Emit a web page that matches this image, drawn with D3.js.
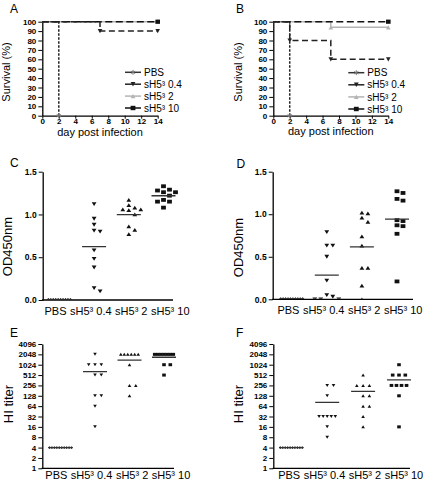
<!DOCTYPE html>
<html><head><meta charset="utf-8">
<script src="https://cdn.jsdelivr.net/npm/d3@7"></script>
<style>
body{margin:0;background:#fff;}
svg{display:block;font-family:Arial,"Liberation Sans",Helvetica,sans-serif;}
</style></head>
<body>
<svg id="chart" width="425" height="485"></svg>
<script>
// ---------- DATA ----------
const groups = ["PBS", "sH5³ 0.4", "sH5³ 2", "sH5³ 10"];
const survTicksY = [0,10,20,30,40,50,60,70,80,90,100];
const survTicksX = [0,2,4,6,8,10,12,14];

// Panel A survival: event days and survival (%)
const survA_PBS_days = [0, 2],      survA_PBS_pct = [100, 0];
const survA_04_days  = [0, 7, 14],  survA_04_pct  = [100, 90, 90];
const survA_2_days   = [0, 14],     survA_2_pct   = [100, 100];
const survA_10_days  = [0, 14],     survA_10_pct  = [100, 100];
// Panel B survival
const survB_PBS_days = [0, 2],        survB_PBS_pct = [100, 0];
const survB_04_days  = [0, 2, 7, 14], survB_04_pct  = [100, 80, 60, 60];
const survB_2_days   = [0, 7, 14],    survB_2_pct   = [100, 94, 94];
const survB_10_days  = [0, 14],       survB_10_pct  = [100, 100];

// Panel C OD450nm
const odTicks = [0, 0.5, 1.0, 1.5];
const odC_PBS = [0.005,0.005,0.005,0.005,0.005,0.005,0.005,0.005,0.005,0.005];
const odC_04  = [1.12,0.95,0.88,0.81,0.80,0.58,0.48,0.38,0.14,0.10];
const odC_2   = [1.17,1.11,1.08,1.06,1.06,1.05,1.00,0.86,0.82,0.77];
const odC_10  = [1.33,1.29,1.28,1.26,1.26,1.22,1.17,1.15,1.15,1.08];
// Panel D OD450nm
const odD_PBS = [0.005,0.005,0.005,0.005,0.005,0.005,0.005,0.005,0.005,0.005];
const odD_04  = [0.79,0.63,0.63,0.50,0.22,0.05,0.03,0.0,0.0,0.0];
const odD_2   = [1.02,1.01,0.96,0.91,0.74,0.63,0.37,0.37,0.16,0.0];
const odD_10  = [1.27,1.25,1.18,1.16,0.93,0.92,0.87,0.86,0.77,0.21];

// Panel E HI titer
const hiTicks = [1,2,4,8,16,32,64,128,256,512,1024,2048,4096];
const hiE_PBS = [4,4,4,4,4,4,4,4,4,4];
const hiE_04  = [2048,1024,1024,1024,512,512,128,128,64,16];
const hiE_2   = [2048,2048,2048,2048,2048,2048,1024,256,256,128];
const hiE_10  = [2048,2048,2048,2048,2048,2048,2048,1024,1024,512];
// Panel F HI titer
const hiF_PBS = [4,4,4,4,4,4,4,4,4,4];
const hiF_04  = [256,256,128,32,32,32,32,32,16,8];
const hiF_2   = [512,256,256,256,128,128,64,64,32,16];
const hiF_10  = [1024,512,512,512,256,256,256,256,128,16];

// ---------- STYLES ----------
const FONT = 'Arial,"Liberation Sans",Helvetica,sans-serif';
const seriesStyle = {
  "PBS":      {color:"#222", dash:"2.5,1.5", sym:d3.symbolAsterisk, mcol:"#777"},
  "sH5³ 0.4": {color:"#222", dash:"6,3.5", sym:"down", mcol:"#222"},
  "sH5³ 2":   {color:"#b4b4b4", dash:null, sym:"up", mcol:"#b4b4b4"},
  "sH5³ 10":  {color:"#111", dash:"7,3.5", sym:"square", mcol:"#111"}
};

const svg = d3.select("#chart");

function marker(g, type, x, y, w, h, fill) {
  if (type === "down") {
    g.append("path").attr("d", `M${x-w/2},${y-h/2}L${x+w/2},${y-h/2}L${x},${y+h/2}Z`).attr("fill", fill);
  } else if (type === "up") {
    g.append("path").attr("d", `M${x-w/2},${y+h/2}L${x+w/2},${y+h/2}L${x},${y-h/2}Z`).attr("fill", fill);
  } else if (type === "square") {
    g.append("rect").attr("x", x-w/2).attr("y", y-h/2).attr("width", w).attr("height", h).attr("fill", fill);
  } else if (type === "diamond") {
    g.append("path").attr("d", `M${x-w/2},${y}L${x},${y-h/2}L${x+w/2},${y}L${x},${y+h/2}Z`).attr("fill", fill);
  } else {
    g.append("path").attr("d", d3.symbol(type, 16)()).attr("transform", `translate(${x},${y})`)
      .attr("fill", "none").attr("stroke", fill).attr("stroke-width", 1);
  }
}

function styleAxis(g, fs) {
  g.select(".domain").attr("stroke", "#000").attr("stroke-width", 1.3);
  g.selectAll(".tick line").attr("stroke", "#000").attr("stroke-width", 1);
  g.selectAll(".tick text").attr("font-family", FONT).attr("font-size", fs)
    .attr("font-weight", "bold").attr("fill", "#000");
}

function label(x, y, txt, fs, rot) {
  const t = svg.append("text").attr("font-family", FONT).attr("font-size", fs).attr("fill", "#000").text(txt);
  if (rot) t.attr("text-anchor", "middle").attr("transform", `translate(${x},${y}) rotate(-90)`);
  else t.attr("x", x).attr("y", y);
  return t;
}

// ---------- SURVIVAL PANELS ----------
function survival(o) {
  const x = d3.scaleLinear().domain([0, 14]).range([o.x0, o.x1]);
  const y = d3.scaleLinear().domain([0, 100]).range([o.y0, o.y1]);
  const gy = svg.append("g").attr("transform", `translate(${o.x0},0)`)
    .call(d3.axisLeft(y).tickValues(survTicksY).tickSize(4).tickPadding(2).tickSizeOuter(0));
  styleAxis(gy, 8);
  const gx = svg.append("g").attr("transform", `translate(0,${o.y0})`)
    .call(d3.axisBottom(x).tickValues(survTicksX).tickSize(3).tickPadding(0).tickSizeOuter(0));
  styleAxis(gx, 8);

  const line = d3.line().x(d => x(d[0])).y(d => y(d[1])).curve(d3.curveStepAfter);
  const order = ["sH5³ 2", "sH5³ 10", "PBS", "sH5³ 0.4"];
  order.forEach(name => {
    const s = o.series[name], st = seriesStyle[name];
    const pts = s.days.map((d, i) => [d, s.pct[i]]);
    svg.append("path").attr("d", line(pts)).attr("fill", "none")
      .attr("stroke", st.color).attr("stroke-width", 1.5)
      .attr("stroke-dasharray", st.dash);
  });
  order.forEach(name => {
    const s = o.series[name], st = seriesStyle[name];
    const mg = svg.append("g");
    s.days.forEach((d, i) => { if (i > 0) marker(mg, st.sym, x(d), y(s.pct[i]), 4.6, 4.2, st.mcol); });
  });

  // legend
  groups.forEach((name, i) => {
    const st = seriesStyle[name];
    const ly = o.legY + i * o.legDy;
    svg.append("line").attr("x1", o.legX).attr("x2", o.legX + 16).attr("y1", ly).attr("y2", ly)
      .attr("stroke", name === "PBS" ? "#333" : st.color).attr("stroke-width", 1.5);
    marker(svg.append("g"), st.sym, o.legX + 8, ly, 4.8, 4.4, st.mcol);
    svg.append("text").attr("x", o.legX + 19).attr("y", ly + 3.6)
      .attr("font-family", FONT).attr("font-size", 10).attr("fill", "#000").text(name);
  });
  label(o.titleX, 72, "Survival (%)", 11, true);
  label((o.x0 + o.x1) / 2, o.xlabY, "day post infection", 11, false).attr("text-anchor", "middle");
}

survival({x0:42.3, x1:157.7, y0:115.7, y1:21.7, legX:125, legY:72.3, legDy:11.9, titleX:10, xlabY:136,
  series:{"PBS":{days:survA_PBS_days,pct:survA_PBS_pct},"sH5³ 0.4":{days:survA_04_days,pct:survA_04_pct},
          "sH5³ 2":{days:survA_2_days,pct:survA_2_pct},"sH5³ 10":{days:survA_10_days,pct:survA_10_pct}}});
survival({x0:273.3, x1:388.3, y0:115.7, y1:21.7, legX:348.3, legY:72.7, legDy:12.1, titleX:241.5, xlabY:135,
  series:{"PBS":{days:survB_PBS_days,pct:survB_PBS_pct},"sH5³ 0.4":{days:survB_04_days,pct:survB_04_pct},
          "sH5³ 2":{days:survB_2_days,pct:survB_2_pct},"sH5³ 10":{days:survB_10_days,pct:survB_10_pct}}});

// ---------- SCATTER PANELS ----------
function layoutPoints(vals, y, cx, opt) {
  const pts = vals.map(v => ({v, y: y(v)}));
  const grp = Array.from(d3.group(pts, d => d.v).values()).sort((a, b) => a[0].y - b[0].y);
  const placed = [];
  for (const g of grp) {
    const n = g.length;
    if (n >= 4) {
      const span = Math.min((n - 1) * opt.step, opt.rowA + opt.rowB * n);
      g.forEach((p, i) => { p.x = cx + (i / (n - 1) - 0.5) * span; placed.push(p); });
    } else {
      for (const p of g) {
        p.x = cx;
        for (let k = 0; k < 14; k++) {
          const off = k === 0 ? 0 : (k % 2 === 1 ? (k + 1) / 2 : -k / 2);
          const xx = cx + off * opt.step;
          if (!placed.some(q => Math.abs(q.x - xx) < opt.w && Math.abs(q.y - p.y) < opt.h)) { p.x = xx; break; }
        }
        placed.push(p);
      }
    }
  }
  return pts;
}

// spread category labels so neighbouring labels do not overlap
function spreadLabels(gx, xc, gap) {
  const ticks = gx.selectAll(".tick").nodes();
  const items = ticks.map(t => {
    const d = d3.select(t).datum();
    const txt = d3.select(t).select("text");
    return {txt, c: xc(d), base: xc(d), w: txt.node().getComputedTextLength()};
  });
  for (let it = 0; it < 60; it++) {
    let moved = false;
    for (let i = 0; i < items.length - 1; i++) {
      const a = items[i], b = items[i + 1];
      const ov = (a.c + a.w / 2 + gap) - (b.c - b.w / 2);
      if (ov > 0.01) { a.c -= ov / 2; b.c += ov / 2; moved = true; }
    }
    if (!moved) break;
  }
  items.forEach(o => o.txt.attr("x", o.c - o.base));
}

let clipId = 0;
function scatter(o) {
  const y = o.y;
  const xc = d3.scalePoint().domain(groups).range(o.catRange);
  const gy = svg.append("g").attr("transform", `translate(${o.x0},0)`)
    .call(d3.axisLeft(y).tickValues(o.ticks).tickFormat(o.fmt).tickSize(4).tickPadding(2).tickSizeOuter(0));
  styleAxis(gy, o.tickFs);
  // x axis baseline
  svg.append("line").attr("x1", o.x0 - 0.65).attr("x2", o.xEnd).attr("y1", o.yBase).attr("y2", o.yBase)
    .attr("stroke", "#000").attr("stroke-width", 1.3);
  const gx = svg.append("g").attr("transform", `translate(0,${o.yBase})`)
    .call(d3.axisBottom(xc).tickSize(0).tickPadding(o.labPad));
  gx.select(".domain").remove();
  gx.selectAll(".tick text").attr("font-family", FONT).attr("font-size", 11).attr("fill", "#000");
  spreadLabels(gx, xc, 3.5);

  const id = "clip" + (clipId++);
  svg.append("clipPath").attr("id", id).append("rect")
    .attr("x", o.x0).attr("y", y.range()[1] - 10).attr("width", o.xEnd - o.x0 + 10)
    .attr("height", o.yBase - y.range()[1] + 10 - 0.6);
  const pg = svg.append("g").attr("clip-path", `url(#${id})`);

  const syms = ["diamond", "down", "up", "square"];
  groups.forEach((name, gi) => {
    const vals = o.data[gi];
    const cx = xc(name);
    const pts = layoutPoints(vals, y, cx, o.lay);
    const sz = gi === 0 ? o.pbsSize : o.msize;
    pts.forEach(p => marker(pg, syms[gi], p.x, p.y, sz[0], sz[1], "#111"));
    const m = d3.mean(vals);
    const half = gi === 0 ? (d3.max(pts, p => p.x) - d3.min(pts, p => p.x)) / 2 + 1 : 12;
    pg.append("line").attr("x1", cx - half).attr("x2", cx + half)
      .attr("y1", y(m)).attr("y2", y(m)).attr("stroke", "#333").attr("stroke-width", 1.3);
  });
  label(o.titleX, o.titleY, o.title, 13, true);
}

const layOD = {step:6, w:5.5, h:4.4, rowA:12, rowB:1.0};
scatter({x0:42.7, xEnd:173, yBase:300, catRange:[59.4,163.5],
  y:d3.scaleLinear().domain([0,1.5]).range([300,171.7]), ticks:odTicks, fmt:d3.format(".1f"), tickFs:8.5,
  data:[odC_PBS, odC_04, odC_2, odC_10], lay:layOD, msize:[4.8,3.8], pbsSize:[3.2,3],
  labPad:7, titleX:12, titleY:246.5, title:"OD450nm"});
scatter({x0:272.7, xEnd:413, yBase:299.3, catRange:[291.7,397],
  y:d3.scaleLinear().domain([0,1.5]).range([299.3,171.7]), ticks:odTicks, fmt:d3.format(".1f"), tickFs:8.5,
  data:[odD_PBS, odD_04, odD_2, odD_10], lay:layOD, msize:[4.8,3.8], pbsSize:[3.2,3],
  labPad:7, titleX:243.3, titleY:247.5, title:"OD450nm"});

const layHI = {step:6.3, w:5.5, h:4, rowA:10.5, rowB:1.15};
scatter({x0:42.3, xEnd:174, yBase:468.3, catRange:[60.5,164],
  y:d3.scaleLog().base(2).domain([1,4096]).range([468.3,344]), ticks:hiTicks, fmt:d3.format("d"), tickFs:8,
  data:[hiE_PBS, hiE_04, hiE_2, hiE_10], lay:layHI, msize:[3.6,3], pbsSize:[3,2.6],
  labPad:3.2, titleX:13.3, titleY:404, title:"HI titer"});
scatter({x0:273.3, xEnd:410, yBase:468.3, catRange:[291.3,399],
  y:d3.scaleLog().base(2).domain([1,4096]).range([468.3,344]), ticks:hiTicks, fmt:d3.format("d"), tickFs:8,
  data:[hiF_PBS, hiF_04, hiF_2, hiF_10], lay:layHI, msize:[3.6,3], pbsSize:[3,2.6],
  labPad:3.2, titleX:243, titleY:404, title:"HI titer"});

// ---------- PANEL LETTERS ----------
[["A",10,13],["B",236,12.7],["C",10,166.7],["D",236.5,168.3],["E",10,336.7],["F",236,336.7]]
  .forEach(([t,x,yy]) => label(x, yy, t, 12, false));
</script>
</body></html>
